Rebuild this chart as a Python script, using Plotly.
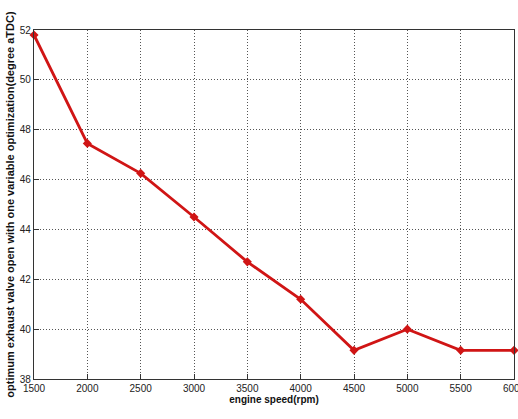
import plotly.graph_objects as go

engine_speed = [1500, 2000, 2500, 3000, 3500, 4000, 4500, 5000, 5500, 6000]
evo_opt = [51.8, 47.45, 46.25, 44.5, 42.7, 41.2, 39.15, 40.0, 39.15, 39.15]
x_ticks = [1500, 2000, 2500, 3000, 3500, 4000, 4500, 5000, 5500, 6000]
y_ticks = [38, 40, 42, 44, 46, 48, 50, 52]

fig = go.Figure()
fig.add_trace(go.Scatter(
    x=engine_speed, y=evo_opt, mode="lines+markers",
    line=dict(color="#d01515", width=2.8),
    marker=dict(symbol="diamond", size=7, color="#d01515"),
    cliponaxis=False, showlegend=False,
))

axis_common = dict(
    showline=True, linecolor="#333333", linewidth=1.2, mirror=True,
    ticks="inside", ticklen=5, tickcolor="#333333",
    showgrid=True, gridcolor="#555555", griddash="1px,2px", gridwidth=1,
    zeroline=False, ticklabeloverflow="allow", automargin=False,
    tickfont=dict(family="Liberation Sans Narrow, Arial Narrow, Arial", size=10, color="#222222"),
)

fig.update_xaxes(
    range=[1500, 6000], tickvals=x_ticks,
    title=dict(text="<b>engine speed(rpm)</b>", font=dict(family="Arial", size=10, color="#111111"), standoff=2),
    **axis_common,
)
fig.update_yaxes(
    range=[38, 52], tickvals=y_ticks,
    title=dict(text="<b>optimum exhaust valve open with one variable optimization(degree aTDC)</b>",
               font=dict(family="Arial", size=11, color="#111111"), standoff=2),
    **axis_common,
)

fig.update_layout(
    width=518, height=419,
    margin=dict(l=34, r=4, t=30, b=40),
    paper_bgcolor="white", plot_bgcolor="white",
)

fig.write_html("out.html")
